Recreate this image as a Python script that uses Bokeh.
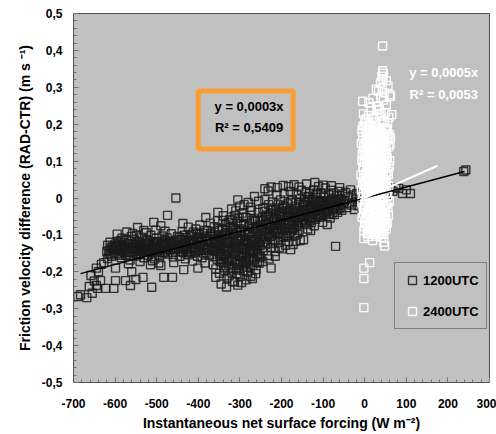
from bokeh.plotting import figure
from bokeh.models import FixedTicker, Legend, LegendItem, Range1d, Label, BoxAnnotation
from bokeh.embed import file_html
from bokeh.resources import INLINE

# ---------------- data ----------------
x_ticks = [-700, -600, -500, -400, -300, -200, -100, 0, 100, 200, 300]
x_tick_labels = ["-700", "-600", "-500", "-400", "-300", "-200", "-100", "0", "100", "200", "300"]
y_ticks = [-0.5, -0.4, -0.3, -0.2, -0.1, 0.0, 0.1, 0.2, 0.3, 0.4, 0.5]
y_tick_labels = ["-0,5", "-0,4", "-0,3", "-0,2", "-0,1", "0", "0,1", "0,2", "0,3", "0,4", "0,5"]

series_names = ["1200UTC", "2400UTC"]
fit_slopes = [0.0003, 0.0005]
fit_eq = ["y = 0,0003x", "y = 0,0005x"]
fit_r2 = ["0,5409", "0,0053"]
fit_x_1200 = [-683, 240]
fit_x_2400 = [-10, 175]

pts_1200utc = [
    (-690, -0.267), (-683, -0.262), (-668, -0.27), (-662, -0.24), (-655, -0.258), (-658, -0.21), (-650, -0.225), (-645, -0.237), (-640, -0.2), (-635, -0.224),
    (-642, -0.245), (-623, -0.245), (-603, -0.245), (-599, -0.224), (-627, -0.175), (-618, -0.164), (-599, -0.19), (-615, -0.15), (-610, -0.135), (-605, -0.14),
    (-620, -0.145), (-612, -0.12), (-600, -0.125), (-608, -0.158), (-633, -0.18), (-645, -0.19), (-575, -0.224), (-563, -0.237), (-550, -0.221), (-533, -0.215),
    (-512, -0.242), (-560, -0.2), (-587, -0.115), (-558, -0.096), (-546, -0.08), (-531, -0.088), (-507, -0.066), (-490, -0.075), (-474, -0.047), (-454, 0.0),
    (-437, -0.069), (-382, -0.053), (-353, -0.039), (-401, -0.19), (-358, -0.215), (-435, -0.194), (-462, -0.215), (-483, -0.215), (-490, -0.183), (-510, -0.17),
    (-459, -0.175),
    (-598, -0.132), (-595, -0.118), (-592, -0.151), (-590, -0.141), (-588, -0.127), (-585, -0.162), (-583, -0.109), (-581, -0.146),
    (-579, -0.138), (-577, -0.121), (-574, -0.155), (-572, -0.113), (-569, -0.146), (-566, -0.131), (-564, -0.168), (-561, -0.104),
    (-559, -0.125), (-556, -0.149), (-553, -0.112), (-551, -0.138), (-548, -0.157), (-545, -0.119), (-543, -0.143), (-541, -0.129),
    (-539, -0.151), (-537, -0.106), (-534, -0.134), (-531, -0.162), (-528, -0.122), (-526, -0.142), (-523, -0.113), (-521, -0.155),
    (-519, -0.128), (-516, -0.147), (-514, -0.101), (-511, -0.139), (-508, -0.118), (-505, -0.165), (-503, -0.131), (-501, -0.109),
    (-498, -0.144), (-496, -0.119), (-493, -0.157), (-490, -0.126), (-487, -0.103), (-485, -0.137), (-482, -0.149), (-480, -0.115),
    (-478, -0.131), (-475, -0.108), (-473, -0.152), (-470, -0.122), (-467, -0.141), (-465, -0.097), (-462, -0.135), (-460, -0.16),
    (-458, -0.118), (-455, -0.146), (-452, -0.127), (-450, -0.104), (-447, -0.139), (-444, -0.158), (-442, -0.113), (-440, -0.132),
    (-595, -0.098), (-572, -0.092), (-548, -0.1), (-525, -0.094), (-502, -0.087), (-480, -0.09), (-568, -0.178), (-540, -0.172), (-515, -0.181), (-495, -0.176),
    (-618, -0.128), (-614, -0.142), (-611, -0.153), (-606, -0.131), (-602, -0.147), (-597, -0.139), (-593, -0.124), (-589, -0.155), (-586, -0.136), (-582, -0.128),
    (-578, -0.147), (-575, -0.133), (-571, -0.125), (-567, -0.152), (-563, -0.139), (-557, -0.131), (-554, -0.144), (-549, -0.126), (-544, -0.153), (-540, -0.138),
    (-536, -0.124), (-532, -0.146), (-527, -0.133), (-524, -0.128), (-520, -0.141), (-517, -0.119), (-513, -0.152), (-509, -0.135), (-504, -0.124), (-500, -0.147),
    (-497, -0.132), (-492, -0.141), (-488, -0.118), (-484, -0.126), (-479, -0.144), (-476, -0.121), (-471, -0.137), (-466, -0.126), (-461, -0.148), (-456, -0.133),
    (-604, -0.136), (-596, -0.129), (-591, -0.137), (-584, -0.143), (-580, -0.131), (-573, -0.139), (-565, -0.124), (-562, -0.147), (-555, -0.135), (-552, -0.127),
    (-547, -0.141), (-542, -0.118), (-538, -0.137), (-535, -0.145), (-530, -0.126), (-522, -0.134), (-518, -0.138), (-510, -0.127), (-506, -0.142), (-499, -0.121),
    (-494, -0.136), (-489, -0.131), (-486, -0.148), (-481, -0.124), (-477, -0.139), (-472, -0.129), (-468, -0.117), (-463, -0.122), (-457, -0.139), (-453, -0.114),
    (-439, -0.091), (-436, -0.148), (-433, -0.122), (-431, -0.165), (-428, -0.107), (-426, -0.137), (-424, -0.079), (-422, -0.154), (-421, -0.118),
    (-419, -0.132), (-416, -0.099), (-414, -0.171), (-411, -0.115), (-409, -0.145), (-406, -0.084), (-404, -0.126), (-402, -0.158), (-400, -0.107),
    (-398, -0.141), (-396, -0.073), (-393, -0.119), (-391, -0.162), (-388, -0.096), (-386, -0.134), (-384, -0.176), (-382, -0.111), (-381, -0.149),
    (-379, -0.088), (-376, -0.127), (-374, -0.155), (-371, -0.068), (-369, -0.139), (-366, -0.104), (-364, -0.181), (-362, -0.121), (-361, -0.093),
    (-359, -0.145), (-357, -0.112), (-355, -0.166), (-353, -0.081), (-351, -0.131), (-358, -0.192), (-354, -0.062), (-352, -0.1),
    (-448, -0.121), (-445, -0.107), (-441, -0.145), (-437, -0.128), (-434, -0.101), (-430, -0.139), (-427, -0.152), (-423, -0.116), (-418, -0.146), (-415, -0.124),
    (-412, -0.092), (-408, -0.133), (-405, -0.111), (-401, -0.142), (-397, -0.098), (-394, -0.131), (-390, -0.114), (-387, -0.149), (-383, -0.126), (-380, -0.103),
    (-377, -0.141), (-373, -0.118), (-370, -0.096), (-367, -0.152), (-363, -0.134), (-360, -0.109), (-356, -0.127), (-352, -0.146), (-350, -0.088), (-348, -0.158),
    (-446, -0.127), (-443, -0.135), (-438, -0.112), (-432, -0.131), (-429, -0.121), (-425, -0.146), (-420, -0.103), (-417, -0.117), (-413, -0.137), (-410, -0.124),
    (-407, -0.148), (-403, -0.097), (-399, -0.121), (-395, -0.143), (-392, -0.108), (-389, -0.129), (-385, -0.088), (-378, -0.115), (-375, -0.137), (-372, -0.104),
    (-368, -0.124), (-365, -0.143), (-362, -0.078), (-358, -0.121), (-355, -0.138),
    (-349, -0.204), (-347, -0.172), (-346, -0.139), (-344, -0.118), (-342, -0.086), (-341, -0.061), (-339, -0.155), (-338, -0.189), (-336, -0.101), (-335, -0.129), (-333, -0.072), (-332, -0.163), (-331, -0.217), (-330, -0.112),
    (-329, -0.144), (-327, -0.182), (-326, -0.095), (-324, -0.058), (-322, -0.121), (-321, -0.201), (-319, -0.077), (-318, -0.166), (-316, -0.133), (-315, -0.109), (-313, -0.228), (-312, -0.047), (-311, -0.152), (-310, -0.088),
    (-309, -0.171), (-307, -0.117), (-306, -0.064), (-304, -0.195), (-302, -0.138), (-301, -0.083), (-299, -0.212), (-298, -0.102), (-296, -0.156), (-295, -0.041), (-293, -0.126), (-292, -0.184), (-291, -0.071), (-290, -0.148),
    (-289, -0.113), (-287, -0.176), (-286, -0.052), (-284, -0.139), (-282, -0.201), (-281, -0.092), (-279, -0.124), (-278, -0.161), (-276, -0.068), (-275, -0.187), (-273, -0.106), (-272, -0.034), (-271, -0.145), (-270, -0.218),
    (-269, -0.082), (-267, -0.131), (-266, -0.168), (-264, -0.057), (-262, -0.112), (-261, -0.194), (-259, -0.097), (-258, -0.146), (-256, -0.039), (-255, -0.121), (-253, -0.176), (-252, -0.074), (-251, -0.158), (-250, -0.103),
    (-348, -0.127), (-345, -0.151), (-343, -0.103), (-340, -0.176), (-337, -0.134), (-334, -0.088), (-331, -0.145), (-328, -0.119), (-325, -0.168), (-323, -0.079),
    (-320, -0.137), (-317, -0.191), (-314, -0.098), (-312, -0.124), (-309, -0.143), (-306, -0.177), (-303, -0.112), (-300, -0.158), (-297, -0.069), (-294, -0.134),
    (-291, -0.197), (-288, -0.087), (-285, -0.151), (-283, -0.116), (-280, -0.171), (-277, -0.094), (-274, -0.133), (-271, -0.061), (-268, -0.149), (-265, -0.118),
    (-263, -0.083), (-260, -0.136), (-257, -0.108), (-254, -0.162), (-252, -0.129), (-336, -0.198), (-326, -0.211), (-308, -0.205), (-294, -0.172), (-284, -0.188),
    (-269, -0.182), (-258, -0.175), (-343, -0.157), (-316, -0.082), (-299, -0.093), (-287, -0.121), (-277, -0.143), (-263, -0.063), (-328, -0.066), (-302, -0.054),
    (-347, -0.113), (-344, -0.166), (-341, -0.131), (-338, -0.098), (-335, -0.155), (-332, -0.121), (-329, -0.172), (-326, -0.138), (-323, -0.104), (-320, -0.161),
    (-317, -0.118), (-314, -0.149), (-311, -0.127), (-308, -0.093), (-305, -0.134), (-302, -0.181), (-299, -0.117), (-296, -0.089), (-293, -0.163), (-290, -0.129),
    (-287, -0.099), (-284, -0.158), (-281, -0.118), (-278, -0.078), (-275, -0.141), (-272, -0.113), (-269, -0.162), (-266, -0.096), (-263, -0.127), (-260, -0.079),
    (-257, -0.152), (-254, -0.091), (-251, -0.118), (-333, -0.184), (-309, -0.189), (-286, -0.168), (-266, -0.141), (-318, -0.061), (-292, -0.052), (-258, -0.062),
    (-345, -0.233), (-332, -0.241), (-318, -0.226), (-305, -0.236), (-296, -0.229), (-285, -0.222), (-274, -0.212), (-262, -0.205), (-340, -0.048), (-300, -0.022),
    (-320, -0.03), (-305, -0.005), (-290, -0.018), (-280, -0.012), (-265, 0.004), (-255, -0.009), (-310, -0.035), (-275, -0.025),
    (-249, -0.061), (-247, -0.112), (-245, -0.028), (-244, -0.143), (-242, -0.089), (-240, -0.004), (-239, -0.127), (-237, -0.071), (-235, -0.046), (-233, -0.156), (-232, -0.098), (-231, -0.018),
    (-229, -0.105), (-227, -0.042), (-226, -0.134), (-224, -0.076), (-222, -0.011), (-221, -0.119), (-219, -0.058), (-217, -0.092), (-215, -0.145), (-214, -0.031), (-212, -0.082), (-211, 0.008),
    (-209, -0.068), (-207, -0.121), (-206, -0.037), (-204, -0.095), (-202, -0.005), (-201, -0.079), (-199, -0.138), (-197, -0.052), (-195, -0.104), (-194, 0.012), (-192, -0.024), (-191, -0.087),
    (-189, -0.049), (-187, -0.101), (-186, -0.016), (-184, -0.074), (-182, -0.118), (-181, -0.033), (-179, 0.018), (-177, -0.089), (-175, -0.061), (-174, -0.006), (-172, -0.126), (-171, -0.042),
    (-169, -0.084), (-167, -0.022), (-166, -0.057), (-164, 0.011), (-162, -0.098), (-161, -0.038), (-159, -0.071), (-157, -0.003), (-155, -0.115), (-154, -0.048), (-152, 0.021), (-151, -0.066),
    (-248, -0.087), (-246, -0.052), (-243, -0.119), (-241, -0.036), (-238, -0.095), (-236, -0.068), (-234, -0.124), (-231, -0.049), (-228, -0.081), (-225, -0.103),
    (-223, -0.027), (-220, -0.088), (-218, -0.061), (-216, -0.115), (-213, -0.044), (-210, -0.096), (-208, -0.018), (-205, -0.073), (-203, -0.107), (-200, -0.041),
    (-198, -0.089), (-196, -0.021), (-193, -0.067), (-190, -0.103), (-188, -0.034), (-185, -0.082), (-183, -0.051), (-180, -0.094), (-178, -0.012), (-176, -0.071),
    (-173, -0.039), (-170, -0.063), (-168, -0.101), (-165, -0.029), (-163, -0.076), (-160, -0.052), (-158, -0.088), (-156, -0.017), (-153, -0.061), (-150, -0.034),
    (-247, -0.079), (-244, -0.062), (-241, -0.104), (-237, -0.053), (-234, -0.086), (-230, -0.072), (-227, -0.097), (-223, -0.058), (-220, -0.031), (-216, -0.074),
    (-212, -0.056), (-208, -0.084), (-204, -0.048), (-200, -0.066), (-197, -0.028), (-193, -0.081), (-189, -0.062), (-185, -0.039), (-181, -0.071), (-177, -0.047),
    (-173, -0.083), (-169, -0.054), (-165, -0.012), (-161, -0.067), (-157, -0.041),
    (-240, 0.025), (-225, 0.03), (-210, 0.028), (-196, 0.034), (-183, 0.031), (-170, 0.036), (-158, 0.03), (-232, 0.019),
    (-245, -0.172), (-230, -0.165), (-215, -0.158), (-205, -0.134), (-190, -0.128), (-178, -0.14), (-165, -0.117), (-225, -0.19),
    (-149, -0.045), (-147, -0.113), (-145, -0.012), (-143, -0.068), (-141, 0.016), (-139, -0.031), (-137, -0.084), (-135, 0.004), (-133, -0.056), (-131, -0.022),
    (-129, -0.061), (-127, -0.009), (-125, -0.038), (-123, 0.022), (-121, -0.075), (-119, -0.017), (-117, 0.009), (-115, -0.049), (-113, -0.028), (-111, 0.031),
    (-109, -0.014), (-107, -0.052), (-105, 0.013), (-103, -0.033), (-101, -0.066), (-99, 0.002), (-97, -0.021), (-95, 0.027), (-93, -0.041), (-91, -0.007),
    (-89, -0.036), (-87, 0.009), (-85, -0.018), (-83, -0.054), (-81, 0.021), (-79, -0.004), (-77, -0.029), (-75, 0.014), (-73, -0.045), (-71, -0.012),
    (-69, -0.022), (-67, 0.006), (-65, -0.039), (-63, -0.009), (-61, 0.018), (-59, -0.027), (-57, -0.002), (-55, -0.033), (-53, 0.011), (-51, -0.016),
    (-148, -0.021), (-146, -0.058), (-144, 0.003), (-142, -0.039), (-140, -0.072), (-138, -0.011), (-136, -0.049), (-134, -0.027), (-132, 0.012), (-130, -0.041),
    (-128, -0.066), (-126, -0.019), (-124, -0.053), (-122, -0.004), (-120, -0.035), (-118, -0.058), (-116, -0.024), (-114, 0.014), (-112, -0.043), (-110, -0.011),
    (-106, -0.032), (-102, -0.047), (-98, -0.017), (-94, -0.036), (-88, -0.021), (-84, -0.008), (-78, -0.041), (-72, -0.026), (-66, -0.013), (-58, -0.019),
    (-146, -0.034), (-142, -0.012), (-138, -0.052), (-134, -0.004), (-130, -0.026), (-126, -0.044), (-122, -0.021), (-118, 0.002), (-114, -0.031), (-110, -0.049),
    (-106, -0.008), (-102, -0.024), (-98, -0.039), (-94, -0.012), (-90, -0.028), (-86, -0.044), (-82, -0.016), (-76, -0.009), (-68, -0.031), (-62, -0.004),
    (-70, -0.131), (-140, 0.038), (-120, 0.042), (-100, 0.035), (-80, 0.033), (-60, 0.028), (-130, -0.088), (-90, -0.072),
    (-49, -0.008), (-46, 0.015), (-43, -0.026), (-40, 0.004), (-37, -0.014), (-34, 0.022), (-31, -0.019), (-28, 0.008), (-25, -0.031), (-22, -0.003),
    (-19, 0.012), (-16, -0.021), (-13, 0.002), (-10, -0.012), (-7, 0.006),
    (45, 0.012), (52, -0.004), (60, 0.021), (68, 0.018), (75, 0.028), (82, 0.026), (91, 0.012), (100, 0.022), (110, 0.012), (238, 0.072),
    (243, 0.076), (30, 0.008), (38, 0.016),
]

pts_2400utc = [
    (43, 0.412), (43, 0.345), (45, 0.338), (41, 0.33), (44, 0.322),
    (38, 0.312), (52, 0.318), (56, 0.305), (42, 0.298), (33, 0.29), (47, 0.285), (60, 0.28), (28, 0.295),
    (-5, 0.262), (10, 0.258), (20, 0.27), (30, 0.248), (45, 0.265), (52, 0.252), (62, 0.275), (35, 0.24), (15, 0.245), (40, 0.272),
    (-3, 0.228), (5, 0.215), (15, 0.236), (25, 0.205), (35, 0.222), (42, 0.21), (50, 0.232), (58, 0.218), (65, 0.226), (12, 0.2), (30, 0.238), (0, 0.205),
    (1, 0.212), (9, 0.224), (21, 0.218), (39, 0.229), (47, 0.206), (55, 0.203),
    (-6, 0.178), (2, 0.192), (8, 0.166), (14, 0.185), (20, 0.172), (26, 0.196), (32, 0.162), (38, 0.181), (44, 0.169), (50, 0.19), (56, 0.175), (62, 0.163), (4, 0.16), (28, 0.178),
    (-4, 0.195), (7, 0.181), (17, 0.193), (23, 0.168), (35, 0.189), (41, 0.176), (53, 0.184), (59, 0.171), (11, 0.172), (30, 0.19),
    (-6, 0.186), (3, 0.174), (9, 0.197), (16, 0.163), (22, 0.184), (29, 0.159), (36, 0.171), (48, 0.166), (54, 0.187),
    (-8, 0.148), (-2, 0.131), (4, 0.155), (10, 0.124), (16, 0.142), (22, 0.158), (28, 0.127), (34, 0.146), (40, 0.133), (46, 0.152), (52, 0.121), (58, 0.139), (12, 0.138), (36, 0.125), (24, 0.14),
    (-5, 0.165), (1, 0.148), (7, 0.137), (13, 0.159), (19, 0.129), (25, 0.151), (31, 0.14), (37, 0.162), (43, 0.144), (49, 0.131), (55, 0.158), (61, 0.146), (18, 0.152), (44, 0.127),
    (-3, 0.139), (3, 0.126), (9, 0.149), (15, 0.121), (21, 0.136), (27, 0.153), (33, 0.129), (39, 0.147), (45, 0.138), (51, 0.142),
    (-7, 0.102), (-1, 0.116), (5, 0.089), (11, 0.108), (17, 0.094), (23, 0.114), (29, 0.085), (35, 0.106), (41, 0.091), (47, 0.113), (53, 0.098), (59, 0.087), (8, 0.1), (32, 0.118), (20, 0.08),
    (-6, 0.121), (0, 0.099), (6, 0.113), (12, 0.091), (18, 0.119), (24, 0.097), (30, 0.111), (36, 0.093), (42, 0.12), (48, 0.095), (54, 0.11), (60, 0.101), (14, 0.105), (38, 0.104),
    (-4, 0.097), (4, 0.108), (10, 0.083), (16, 0.099), (22, 0.088), (28, 0.103), (34, 0.081), (40, 0.111), (46, 0.086), (52, 0.107),
    (-9, 0.062), (-3, 0.075), (3, 0.048), (9, 0.068), (15, 0.053), (21, 0.071), (27, 0.044), (33, 0.066), (39, 0.057), (45, 0.074), (51, 0.049), (57, 0.063), (0, 0.041), (24, 0.058), (42, 0.045),
    (-4, 0.083), (2, 0.064), (8, 0.079), (14, 0.061), (20, 0.077), (26, 0.068), (32, 0.082), (38, 0.071), (44, 0.06), (50, 0.081), (56, 0.072), (11, 0.052), (35, 0.049),
    (-2, 0.056), (4, 0.068), (10, 0.042), (16, 0.074), (22, 0.047), (28, 0.063), (34, 0.053), (40, 0.069), (46, 0.051), (52, 0.061),
    (-8, 0.022), (-2, 0.035), (4, 0.011), (10, 0.028), (16, 0.004), (22, 0.031), (28, 0.017), (34, 0.038), (40, 0.009), (46, 0.026), (52, 0.014), (58, 0.032), (6, 0.039), (30, 0.002), (18, 0.018),
    (-5, 0.044), (1, 0.027), (7, 0.049), (13, 0.021), (19, 0.042), (25, 0.009), (31, 0.027), (37, 0.014), (43, 0.036), (49, 0.041), (55, 0.006), (21, 0.001), (45, 0.003),
    (-3, 0.013), (3, 0.024), (9, 0.006), (15, 0.033), (21, 0.016), (27, 0.037), (33, 0.012), (39, 0.028), (47, 0.019), (53, 0.026),
    (-7, -0.013), (-1, -0.028), (5, -0.006), (11, -0.034), (17, -0.019), (23, -0.038), (29, -0.011), (35, -0.025), (41, -0.003), (47, -0.031), (53, -0.017), (59, -0.008), (14, -0.025), (38, -0.036), (2, -0.018),
    (-6, 0.004), (0, -0.008), (6, 0.016), (12, -0.012), (18, -0.003), (24, -0.021), (32, -0.034), (36, -0.009), (44, -0.018), (50, -0.039), (56, -0.026), (27, -0.028),
    (-4, -0.024), (2, -0.039), (8, -0.021), (14, -0.046), (20, -0.029), (26, -0.013), (32, -0.051), (38, -0.024), (44, -0.049), (50, -0.021),
    (-6, -0.052), (0, -0.066), (6, -0.044), (12, -0.074), (18, -0.058), (24, -0.079), (30, -0.048), (36, -0.063), (42, -0.071), (48, -0.055), (54, -0.068), (9, -0.06), (27, -0.069), (45, -0.042),
    (-3, -0.041), (3, -0.056), (9, -0.037), (15, -0.066), (21, -0.047), (27, -0.052), (33, -0.077), (39, -0.045), (45, -0.063), (51, -0.058), (57, -0.047),
    (4, -0.071), (12, -0.086), (20, -0.064), (26, -0.088), (36, -0.074), (44, -0.089), (50, -0.069),
    (-2, -0.088), (6, -0.095), (14, -0.083), (22, -0.099), (30, -0.086), (38, -0.092), (46, -0.098), (52, -0.084), (18, -0.091), (34, -0.1),
    (0, -0.078), (8, -0.082), (16, -0.072), (24, -0.092), (32, -0.066), (40, -0.081), (48, -0.076), (10, -0.097), (28, -0.104), (42, -0.097),
    (-2, -0.11), (19, -0.115), (46, -0.12), (48, -0.13), (12, -0.175), (-2, -0.19), (-2, -0.218), (-2, -0.297), (40, -0.107), (8, -0.105),
]

# ---------------- figure ----------------
FONT = "Liberation Sans"
bx = [q[0] for q in pts_1200utc]
by = [q[1] for q in pts_1200utc]
wx = [q[0] for q in pts_2400utc]
wy = [q[1] for q in pts_2400utc]

p = figure(width=496, height=434, x_range=Range1d(-700, 300), y_range=Range1d(-0.5, 0.5),
           output_backend="svg", toolbar_location=None,
           min_border_left=73, min_border_right=7, min_border_top=13, min_border_bottom=52,
           background_fill_color="#c0c0c0", border_fill_color="white")
p.grid.visible = False
p.outline_line_color = "#505050"
p.outline_line_width = 1

r_black = p.scatter(bx, by, marker="square", size=8, fill_alpha=0,
                    line_color="#1a1a1a", line_alpha=0.85, line_width=1.4)
r_white = p.scatter(wx, wy, marker="square", size=8, fill_alpha=0,
                    line_color="#ffffff", line_alpha=0.9, line_width=1.4)

p.line(fit_x_1200, [fit_slopes[0] * v for v in fit_x_1200], line_color="black", line_width=1.5)
p.line(fit_x_2400, [fit_slopes[1] * v for v in fit_x_2400], line_color="white", line_width=2)

# axes
x_minor = [v for v in range(-700, 301, 20) if v % 100 != 0]
y_minor = [i / 100 for i in range(-50, 51, 2) if i % 10 != 0]
p.xaxis.ticker = FixedTicker(ticks=x_ticks, minor_ticks=x_minor)
p.yaxis.ticker = FixedTicker(ticks=y_ticks, minor_ticks=y_minor)
p.xaxis.major_label_overrides = dict(zip(x_ticks, x_tick_labels))
p.yaxis.major_label_overrides = dict(zip(y_ticks, y_tick_labels))

for ax in (p.xaxis[0], p.yaxis[0]):
    ax.axis_line_color = "#505050"
    ax.major_tick_in = 5
    ax.major_tick_out = 0
    ax.minor_tick_in = 3
    ax.minor_tick_out = 0
    ax.major_tick_line_color = "#707070"
    ax.minor_tick_line_color = "#707070"
    ax.major_label_text_font = FONT
    ax.major_label_text_font_style = "bold"
    ax.major_label_text_font_size = "12px"
    ax.major_label_text_color = "black"
    ax.axis_label_text_font = FONT
    ax.axis_label_text_font_style = "bold"
    ax.axis_label_text_font_size = "14px"
    ax.axis_label_text_color = "black"

p.xaxis.axis_label = "Instantaneous net surface forcing (W m\u207b\u00b2)"
p.yaxis.axis_label = "Friction velocity difference (RAD-CTR) (m s \u207b\u00b9)"
p.xaxis.major_label_standoff = 16
p.xaxis.axis_label_standoff = 4
p.yaxis.major_label_standoff = 11
p.yaxis.axis_label_standoff = 6

# equation box for 1200UTC
p.add_layout(BoxAnnotation(left=-400, right=-172, top=0.29, bottom=0.133,
                           fill_alpha=0, line_color="#F99D31", line_alpha=1, line_width=5))
p.add_layout(Label(x=-278, y=0.249, text=fit_eq[0], text_align="center",
                   text_baseline="middle", text_font=FONT, text_font_style="bold",
                   text_font_size="13px", text_color="black"))
p.add_layout(Label(x=-278, y=0.192, text="R\u00b2 = " + fit_r2[0], text_align="center",
                   text_baseline="middle", text_font=FONT, text_font_style="bold",
                   text_font_size="13px", text_color="black"))
# equation for 2400UTC
p.add_layout(Label(x=190, y=0.341, text=fit_eq[1], text_align="center",
                   text_baseline="middle", text_font=FONT, text_font_style="bold",
                   text_font_size="13px", text_color="white"))
p.add_layout(Label(x=190, y=0.2805, text="R\u00b2 = " + fit_r2[1], text_align="center",
                   text_baseline="middle", text_font=FONT, text_font_style="bold",
                   text_font_size="13px", text_color="white"))

legend = Legend(items=[LegendItem(label=series_names[0], renderers=[r_black]),
                       LegendItem(label=series_names[1], renderers=[r_white])],
                location=(321, 53), orientation="vertical",
                glyph_width=20, glyph_height=20, label_height=20,
                padding=7, spacing=11, label_standoff=1, margin=0,
                background_fill_color="#c0c0c0", background_fill_alpha=1,
                border_line_color="#404040", border_line_width=1,
                label_text_font=FONT, label_text_font_style="bold",
                label_text_font_size="13px", label_text_color="black")
p.add_layout(legend)

open("out.html", "w").write(file_html(p, INLINE))
